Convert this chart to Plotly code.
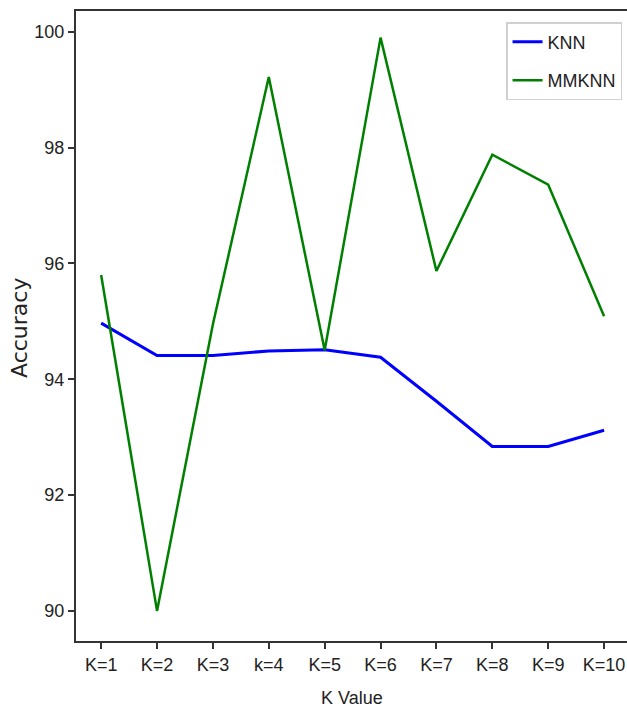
import plotly.graph_objects as go

k_labels = ["K=1", "K=2", "K=3", "k=4", "K=5", "K=6", "K=7", "K=8", "K=9", "K=10"]
knn = [94.97, 94.41, 94.41, 94.49, 94.51, 94.38, 93.62, 92.84, 92.84, 93.12]
mmknn = [95.80, 90.00, 94.95, 99.22, 94.50, 99.90, 95.87, 97.88, 97.36, 95.09]
y_ticks = [90, 92, 94, 96, 98, 100]

FONT = "Liberation Sans, Arial, sans-serif"
x_idx = list(range(len(k_labels)))

fig = go.Figure()
fig.add_trace(go.Scatter(x=x_idx, y=knn, mode="lines", name="KNN", legendgroup="a",
                         line=dict(color="#0000ff", width=3)))
fig.add_trace(go.Scatter(x=x_idx, y=mmknn, mode="lines", name="MMKNN", legendgroup="b",
                         line=dict(color="#008000", width=2.5)))

fig.update_layout(
    width=627, height=711,
    margin=dict(l=76, r=0, t=11, b=70),
    paper_bgcolor="white", plot_bgcolor="white",
    font=dict(family=FONT, size=18, color="#222"),
    showlegend=True,
    legend=dict(x=0.991, y=0.9825, xanchor="right", yanchor="top",
                bordercolor="#d0d0d0", borderwidth=1.5, bgcolor="white",
                font=dict(family=FONT, size=18, color="#222"),
                tracegroupgap=12, traceorder="grouped", itemwidth=30),
    annotations=[
        dict(text="K Value", xref="paper", yref="paper", x=(352 - 76) / 551, y=-(698 - 641) / 630,
             xanchor="center", yanchor="middle", showarrow=False,
             font=dict(family=FONT, size=18, color="#222")),
        dict(text="Accuracy", xref="paper", yref="paper", x=-(76 - 19) / 551, y=(641 - 328) / 630,
             xanchor="center", yanchor="middle", showarrow=False, textangle=-90,
             font=dict(family="DejaVu Sans, sans-serif", size=22, color="#222")),
    ],
)
fig.update_xaxes(
    range=[-0.45, 9.41], tickmode="array", tickvals=x_idx, ticktext=k_labels,
    showgrid=False, zeroline=False, showline=True, linecolor="#333", linewidth=2,
    mirror=True, ticks="outside", ticklen=6, tickwidth=1.5, tickcolor="#333",
    tickfont=dict(family=FONT, size=18, color="#222"), automargin=False,
)
fig.update_yaxes(
    range=[89.48, 100.36], tickmode="array", tickvals=y_ticks,
    showgrid=False, zeroline=False, showline=True, linecolor="#333", linewidth=2,
    ticks="outside", ticklen=6, tickwidth=1.5, tickcolor="#333",
    tickfont=dict(family=FONT, size=18, color="#222"), automargin=False,
)

fig.write_html(
    "out.html",
    config={"displayModeBar": False},
    post_script="document.body.style.margin='0';document.body.style.overflow='hidden';"
                "document.documentElement.style.overflow='hidden';",
)
